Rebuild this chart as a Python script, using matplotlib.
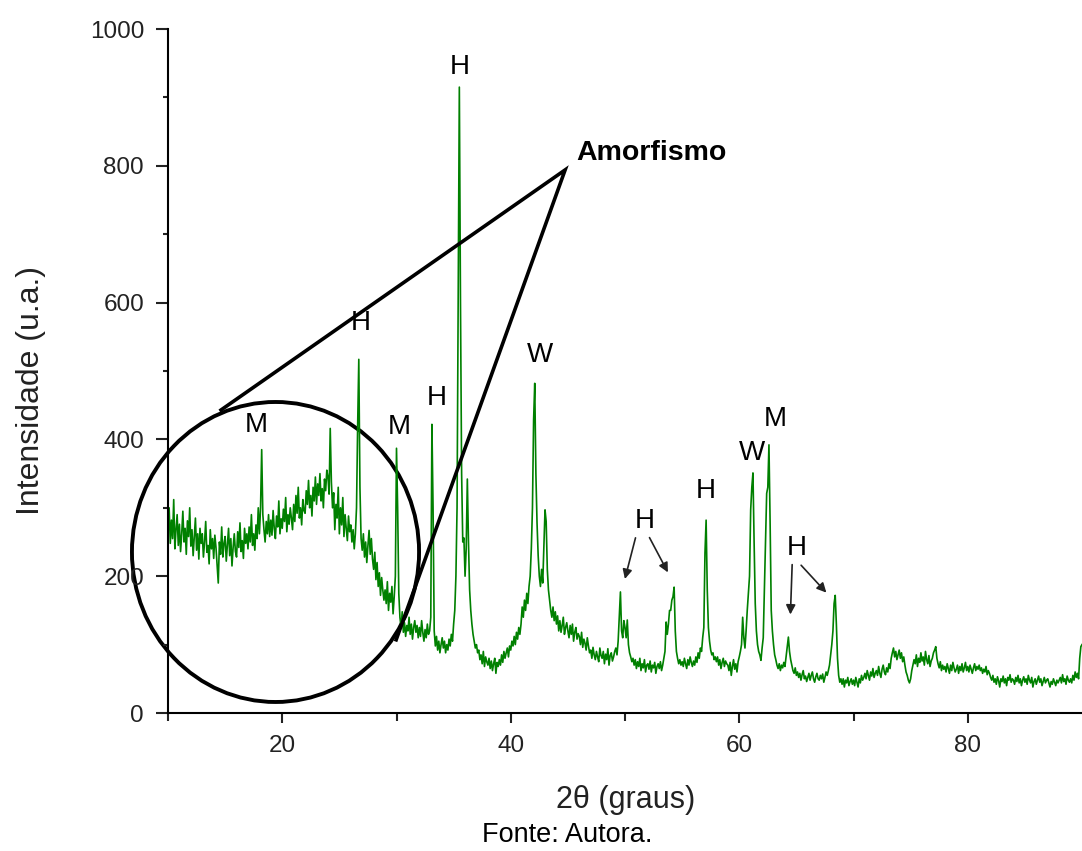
import numpy as np
import matplotlib
matplotlib.use("Agg")
from matplotlib import pyplot as plt
from matplotlib.patches import Ellipse

plt.rcParams['font.family'] = ['Liberation Sans', 'DejaVu Sans']

# 2theta grid, 0.1 deg steps from 10 to 90
two_theta = np.round(np.arange(10.0, 90.05, 0.1), 1)

# intensity, one row per degree (x.0 ... x.9)
intensity = [
    270, 300, 248, 282, 255, 312, 240, 268, 290, 245,   # 10
    276, 236, 262, 295, 250, 270, 232, 281, 258, 300,   # 11
    244, 268, 230, 258, 285, 238, 262, 225, 270, 248,   # 12
    262, 228, 250, 280, 235, 245, 218, 268, 240, 255,   # 13
    226, 260, 242, 215, 190, 250, 232, 272, 228, 248,   # 14
    258, 222, 246, 270, 230, 255, 215, 242, 262, 236,   # 15
    228, 265, 242, 278, 236, 252, 226, 270, 248, 262,   # 16
    240, 272, 250, 290, 245, 262, 238, 275, 255, 300,   # 17
    262, 300, 385, 290, 268, 250, 280, 262, 290, 258,   # 18
    282, 260, 296, 270, 255, 288, 272, 310, 262, 284,   # 19
    270, 298, 280, 315, 265, 290, 276, 300, 285, 268,   # 20
    305, 280, 318, 292, 330, 285, 300, 275, 312, 296,   # 21
    292, 325, 305, 340, 300, 318, 288, 330, 310, 345,   # 22
    305, 335, 318, 350, 310, 328, 300, 342, 325, 355,   # 23
    345, 320, 416, 338, 300, 322, 268, 305, 285, 330,   # 24
    262, 300, 275, 315, 258, 290, 270, 252, 288, 265,   # 25
    275, 250, 268, 240, 262, 300, 420, 517, 330, 255,   # 26
    238, 262, 228, 250, 220, 245, 267, 232, 255, 225,   # 27
    210, 235, 195, 220, 185, 205, 172, 198, 180, 165,   # 28
    180, 160, 192, 150, 175, 162, 185, 145, 170, 200,   # 29
    387, 300, 175, 140, 125, 148, 118, 132, 112, 128,   # 30
    120, 140, 115, 130, 108, 125, 135, 118, 128, 110,   # 31
    125, 112, 135, 118, 105, 122, 110, 130, 115, 120,   # 32
    140, 422, 300, 120, 98, 112, 92, 105, 88, 100,      # 33
    110, 95, 105, 88, 100, 92, 108, 98, 115, 105,       # 34
    130, 150, 200, 300, 610, 915, 600, 350, 250, 256,   # 35
    200, 240, 342, 250, 180, 150, 130, 115, 105, 95,    # 36
    100, 88, 92, 78, 85, 72, 90, 68, 82, 75,            # 37
    70, 80, 65, 76, 62, 72, 80, 58, 74, 68,             # 38
    78, 70, 85, 74, 90, 80, 88, 95, 82, 98,             # 39
    92, 105, 98, 112, 100, 118, 108, 125, 115, 130,     # 40
    155, 140, 165, 150, 175, 160, 185, 200, 240, 300,   # 41
    428, 482, 350, 278, 230, 200, 185, 210, 190, 245,   # 42
    297, 280, 210, 180, 165, 150, 140, 155, 135, 148,   # 43
    130, 142, 120, 135, 118, 128, 140, 115, 125, 132,   # 44
    120, 110, 128, 115, 130, 105, 118, 125, 108, 116,   # 45
    112, 100, 118, 96, 108, 102, 92, 110, 98, 88,       # 46
    92, 80, 96, 85, 78, 90, 82, 75, 95, 84,             # 47
    80, 90, 72, 86, 78, 94, 70, 84, 88, 76,             # 48
    82, 90, 95, 85, 105, 140, 177, 120, 110, 135,       # 49
    125, 110, 136, 100, 88, 82, 75, 80, 70, 78,         # 50
    65, 75, 68, 80, 62, 72, 66, 78, 60, 70,             # 51
    72, 64, 76, 60, 70, 66, 74, 58, 68, 72,             # 52
    65, 75, 62, 70, 80, 90, 133, 115, 130, 150,         # 53
    150, 165, 170, 184, 120, 90, 80, 72, 78, 70,        # 54
    75, 68, 80, 72, 65, 78, 70, 82, 74, 68,             # 55
    76, 70, 82, 74, 88, 80, 95, 90, 110, 125,           # 56
    234, 282, 180, 125, 105, 92, 85, 88, 78, 82,        # 57
    75, 82, 70, 78, 65, 74, 80, 68, 76, 72,             # 58
    70, 62, 74, 55, 68, 78, 64, 72, 60, 75,             # 59
    82, 90, 100, 140, 110, 95, 120, 150, 175, 200,      # 60
    297, 330, 351, 250, 160, 120, 100, 90, 85, 77,      # 61
    95, 110, 180, 250, 321, 330, 392, 280, 150, 120,    # 62
    100, 85, 78, 70, 65, 72, 62, 70, 66, 74,            # 63
    68, 82, 95, 111, 90, 78, 70, 62, 58, 66,            # 64
    55, 60, 52, 58, 48, 56, 62, 50, 54, 46,             # 65
    52, 58, 48, 55, 60, 50, 45, 53, 58, 50,             # 66
    48, 55, 50, 57, 45, 52, 60, 55, 62, 70,             # 67
    85, 100, 120, 160, 172, 130, 80, 55, 45, 50,        # 68
    42, 50, 38, 48, 44, 52, 40, 46, 50, 42,             # 69
    48, 40, 52, 45, 38, 50, 44, 55, 48, 52,             # 70
    58, 50, 62, 55, 48, 60, 54, 65, 52, 58,             # 71
    62, 55, 68, 58, 52, 64, 70, 60, 56, 66,             # 72
    60, 72, 65, 80, 88, 95, 82, 90, 78, 85,             # 73
    92, 80, 88, 75, 82, 70, 60, 55, 48, 44,             # 74
    50, 62, 70, 78, 72, 85, 68, 80, 74, 88,             # 75
    76, 82, 70, 90, 78, 72, 84, 68, 76, 80,             # 76
    88, 92, 97, 80, 72, 66, 75, 62, 70, 64,             # 77
    68, 60, 72, 65, 58, 70, 62, 74, 66, 60,             # 78
    64, 70, 58, 68, 62, 72, 60, 66, 74, 62,             # 79
    68, 60, 70, 64, 58, 66, 72, 62, 68, 64,             # 80
    70, 62, 66, 58, 64, 60, 68, 56, 62, 58,             # 81
    52, 48, 55, 45, 50, 42, 53, 47, 38, 50,             # 82
    46, 54, 44, 50, 40, 52, 48, 56, 45, 50,             # 83
    48, 42, 52, 46, 55, 44, 50, 40, 48, 53,             # 84
    45, 50, 42, 55, 48, 44, 52, 38, 46, 50,             # 85
    42, 48, 54, 45, 50, 40, 46, 52, 44, 48,             # 86
    50, 44, 38, 46, 42, 50, 45, 40, 48, 44,             # 87
    48, 52, 44, 56, 46, 50, 42, 54, 48, 45,             # 88
    50, 44, 55, 48, 60, 52, 58, 50, 80, 97,             # 89
    100,                                                # 90
]

# phase labels (M, H, W) and their positions
peak_labels = ["M", "H", "M", "H", "H", "W", "H", "H", "W", "M", "H"]
label_x = [17.7, 26.9, 30.2, 33.55, 35.57, 42.57, 51.77, 57.1, 61.14, 63.15, 65.0]
label_y = [421, 570, 418, 460, 944, 523, 281, 325, 380, 430, 241]

# arrows from the two "H" labels: (tail x, tail y, head x, head y)
arrow_tail_x = [50.98, 52.03, 64.64, 65.25]
arrow_tail_y = [260, 260, 221, 219]
arrow_head_x = [49.93, 53.87, 64.47, 67.79]
arrow_head_y = [192, 202, 140, 173]

fig = plt.figure(figsize=(10.82, 8.51), dpi=100)
ax = fig.add_axes([168/1082, 138/851, 914/1082, 684/851])

ax.plot(two_theta, intensity, color="#008000", linewidth=1.2)

ax.set_xlim(10, 90)
ax.set_ylim(0, 1000)
ax.set_xticks([20, 40, 60, 80])
ax.set_xticks([10, 30, 50, 70], minor=True)
ax.set_yticks([0, 200, 400, 600, 800, 1000])
ax.set_yticks([100, 300, 500, 700, 900], minor=True)
ax.tick_params(which="both", direction="out", width=1.5, labelsize=17.5, colors="#222222")
ax.tick_params(axis="y", which="major", length=8.6, pad=8.6)
ax.tick_params(axis="y", which="minor", length=3.6)
ax.tick_params(axis="x", which="major", length=7, pad=9)
ax.tick_params(axis="x", which="minor", length=6)
ax.spines["top"].set_visible(False)
ax.spines["right"].set_visible(False)
ax.spines["left"].set_linewidth(1.5)
ax.spines["bottom"].set_linewidth(1.5)

for t, x, y in zip(peak_labels, label_x, label_y):
    ax.text(x, y, t, fontsize=20, ha="center", va="center")

for tx, ty, hx, hy in zip(arrow_tail_x, arrow_tail_y, arrow_head_x, arrow_head_y):
    ax.annotate("", xy=(hx, hy), xytext=(tx, ty),
                arrowprops=dict(arrowstyle="-|>", color="#222222", lw=1.2, mutation_scale=14))

# amorphous halo marker: circle plus two lines to the label
ax.add_patch(Ellipse((19.41, 235.4), 25.13, 438.6, fill=False, edgecolor="black",
                     linewidth=2.8, clip_on=False))
ax.plot([14.64, 44.76, 29.97], [443, 794, 107], color="black", linewidth=2.6,
        solid_joinstyle="miter", clip_on=False)
ax.text(45.7, 818, "Amorfismo", fontsize=20.5, fontweight="bold", ha="left", va="center")

fig.text(0.5786, 0.060, "2θ (graus)", fontsize=22, ha="center", va="center", color="#222222")
fig.text(0.0285, 0.5417, "Intensidade (u.a.)", fontsize=23, rotation=90, ha="center", va="center", color="#222222")
fig.text(0.524, 0.019, "Fonte: Autora.", fontsize=19.5, ha="center", va="center")

plt.savefig("out.png", dpi=100)
